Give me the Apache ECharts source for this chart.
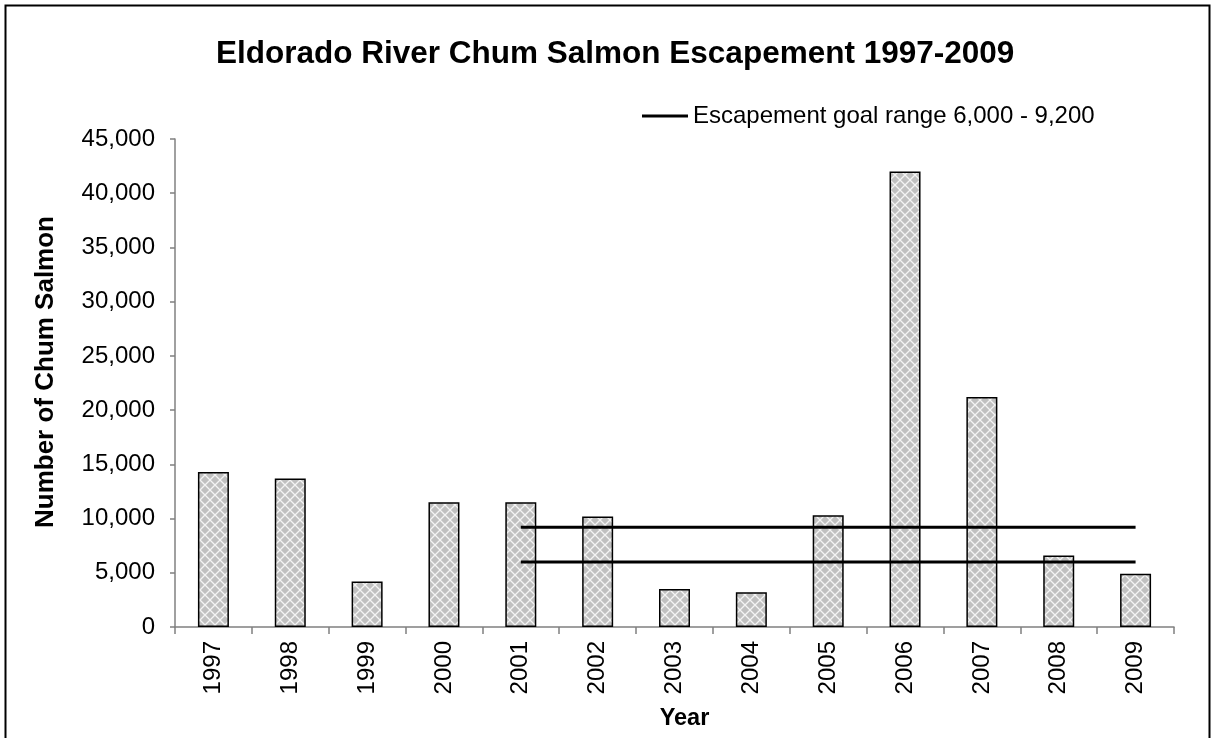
<!DOCTYPE html>
<html>
<head>
<meta charset="utf-8">
<script src="https://cdn.jsdelivr.net/npm/echarts@6/dist/echarts.min.js"></script>
<style>
html,body{margin:0;padding:0;background:#fff;}
#main{width:1213px;height:738px;}
</style>
</head>
<body>
<div id="main"></div>
<script>
var years = ['1997','1998','1999','2000','2001','2002','2003','2004','2005','2006','2007','2008','2009'];
var escapement = [14300, 13700, 4200, 11500, 11500, 10200, 3500, 3200, 10300, 42000, 21200, 6600, 4900];
var goalLow = 6000;
var goalHigh = 9200;
var goalFrom = '2001';   // goal lines drawn from this year to the last one
var goalName = 'Escapement goal range 6,000 - 9,200';

// crosshatch fill like the excel bars
var tile = document.createElement('canvas');
tile.width = 10; tile.height = 10;
var ctx = tile.getContext('2d');
ctx.fillStyle = '#c0c0c0';
ctx.fillRect(0, 0, 10, 10);
ctx.strokeStyle = '#f4f4f4';
ctx.lineWidth = 1.3;
ctx.beginPath();
ctx.moveTo(0, 0); ctx.lineTo(10, 10);
ctx.moveTo(10, 0); ctx.lineTo(0, 10);
ctx.stroke();

var startIdx = years.indexOf(goalFrom);
function goalLine(v) {
    return years.map(function (y, i) { return i >= startIdx ? v : '-'; });
}

var chart = echarts.init(document.getElementById('main'));
chart.setOption({
    animation: false,
    textStyle: {fontFamily: 'Liberation Sans, Arial, sans-serif'},
    title: {
        text: 'Eldorado River Chum Salmon Escapement 1997-2009',
        left: 211,
        top: 33,
        textStyle: {fontSize: 31.5, fontWeight: 'bold', color: '#000'}
    },
    legend: {
        left: 637,
        top: 99,
        data: [goalName],
        icon: 'rect',
        itemWidth: 46,
        itemHeight: 3,
        itemGap: 5,
        textStyle: {fontSize: 24, color: '#000'}
    },
    grid: {left: 175, right: 39, top: 139, bottom: 111},
    xAxis: {
        type: 'category',
        data: years,
        name: 'Year',
        nameLocation: 'middle',
        nameGap: 80,
        nameTextStyle: {fontSize: 23.5, fontWeight: 'bold', color: '#000', padding: [0, 0, 0, 20]},
        axisLine: {lineStyle: {color: '#808080', width: 1.5}},
        axisTick: {show: true, length: 7, alignWithLabel: false, lineStyle: {color: '#808080', width: 1.5}},
        axisLabel: {rotate: 90, fontSize: 24, color: '#000', margin: 14}
    },
    yAxis: {
        type: 'value',
        min: 0,
        max: 45000,
        interval: 5000,
        name: 'Number of Chum Salmon',
        nameLocation: 'middle',
        nameGap: 116,
        nameTextStyle: {fontSize: 26, fontWeight: 'bold', color: '#000', padding: [0, 0, 0, 22]},
        splitLine: {show: false},
        axisLine: {show: true, lineStyle: {color: '#808080', width: 1.5}},
        axisTick: {show: true, length: 5, lineStyle: {color: '#808080', width: 1.5}},
        axisLabel: {
            fontSize: 24, color: '#000', margin: 20,
            formatter: function (v) { return v.toLocaleString('en-US'); }
        }
    },
    series: [
        {
            name: 'Escapement',
            type: 'bar',
            data: escapement,
            barWidth: 31,
            itemStyle: {
                color: {image: tile, repeat: 'repeat'},
                borderColor: '#000',
                borderWidth: 1.5
            }
        },
        {
            name: goalName,
            type: 'line',
            data: goalLine(goalHigh),
            symbol: 'none',
            z: 5,
            lineStyle: {color: '#000', width: 3},
            itemStyle: {color: '#000'}
        },
        {
            name: 'goal low',
            type: 'line',
            data: goalLine(goalLow),
            symbol: 'none',
            z: 5,
            lineStyle: {color: '#000', width: 3},
            itemStyle: {color: '#000'}
        }
    ],
    graphic: [{
        type: 'rect',
        shape: {x: 5.5, y: 5.5, width: 1204, height: 760},
        style: {fill: 'none', stroke: '#000', lineWidth: 2},
        silent: true
    }]
});
</script>
</body>
</html>
